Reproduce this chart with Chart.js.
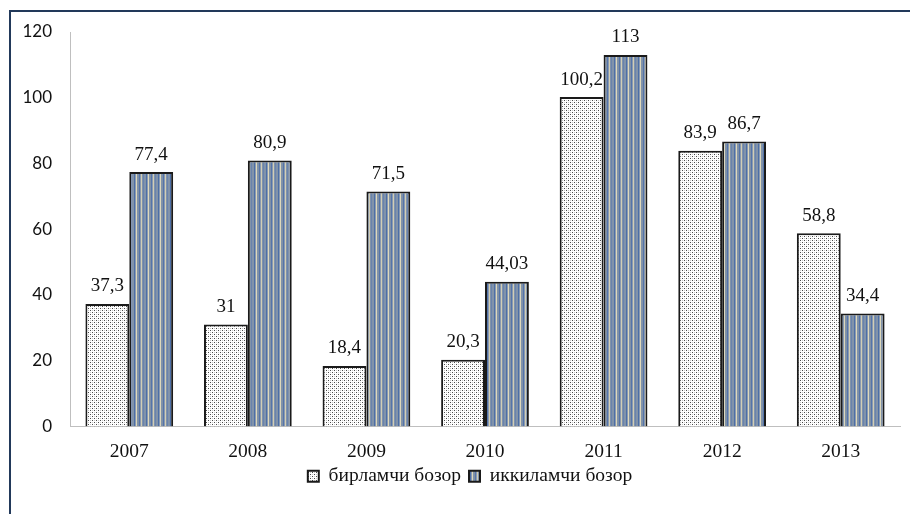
<!DOCTYPE html>
<html>
<head>
<meta charset="utf-8">
<script src="https://cdn.jsdelivr.net/npm/chart.js@4.4.0/dist/chart.umd.min.js"></script>
<style>
  html, body { margin: 0; padding: 0; background: #fff; }
  #wrap { position: relative; width: 910px; height: 514px; overflow: hidden; }
  #frame {
    position: absolute; left: 9px; top: 10px; width: 920px; height: 520px;
    border-left: 2px solid #22395a; border-top: 2px solid #22395a;
    box-sizing: border-box; pointer-events: none;
  }
  canvas { position: absolute; left: 0; top: 0; }
</style>
</head>
<body>
<div id="wrap">
  <canvas id="chart" width="910" height="514"></canvas>
  <div id="frame"></div>
</div>
<script>
// Data
const years = ['2007', '2008', '2009', '2010', '2011', '2012', '2013'];
const primaryMarket = [37.3, 31, 18.4, 20.3, 100.2, 83.9, 58.8];
const secondaryMarket = [77.4, 80.9, 71.5, 44.03, 113, 86.7, 34.4];
const primaryLabels = ['37,3', '31', '18,4', '20,3', '100,2', '83,9', '58,8'];
const secondaryLabels = ['77,4', '80,9', '71,5', '44,03', '113', '86,7', '34,4'];
const seriesNames = ['бирламчи бозор', 'иккиламчи бозор'];

// Fill patterns: fine dots and vertical stripes
function dotPattern(ctx) {
  const c = document.createElement('canvas');
  c.width = 4; c.height = 4;
  const g = c.getContext('2d');
  g.fillStyle = '#ffffff';
  g.fillRect(0, 0, 4, 4);
  g.fillStyle = '#4a4a4a';
  g.fillRect(0, 0, 1, 1);
  g.fillRect(2, 2, 1, 1);
  g.fillStyle = '#c8c8c8';
  g.fillRect(2, 0, 1, 1);
  g.fillRect(0, 2, 1, 1);
  return ctx.createPattern(c, 'repeat');
}

function stripePattern(ctx) {
  const cols = ['#8193aa', '#8193aa', '#4d6fa6', '#8a9ab0', '#ddd8bc', '#8193aa',
                '#7f90a6', '#5474aa', '#8a9ab0', '#d2ceb6', '#8193aa', '#6983ad'];
  const c = document.createElement('canvas');
  c.width = cols.length; c.height = 4;
  const g = c.getContext('2d');
  cols.forEach((col, i) => {
    g.fillStyle = col;
    g.fillRect(i, 0, 1, 4);
  });
  return ctx.createPattern(c, 'repeat');
}

const canvas = document.getElementById('chart');
const ctx = canvas.getContext('2d');

// Value labels above each bar
const valueLabels = {
  id: 'valueLabels',
  afterLayout(chart) {
    // legend sits a little right of the canvas centre
    chart.legend.left += 20;
    chart.legend.right += 20;
  },
  afterDatasetsDraw(chart) {
    const g = chart.ctx;
    const texts = [primaryLabels, secondaryLabels];
    g.save();
    g.font = '19px "Liberation Serif", "Times New Roman", serif';
    g.fillStyle = '#111';
    g.textAlign = 'center';
    g.textBaseline = 'bottom';
    chart.data.datasets.forEach((ds, i) => {
      chart.getDatasetMeta(i).data.forEach((bar, j) => {
        g.fillText(texts[i][j], bar.x, bar.y - 8);
      });
    });
    g.restore();
  }
};

new Chart(ctx, {
  type: 'bar',
  data: {
    labels: years,
    datasets: [
      {
        label: seriesNames[0],
        data: primaryMarket,
        backgroundColor: dotPattern(ctx),
        borderColor: '#1a1a1a',
        borderWidth: 2,
        borderSkipped: 'bottom'
      },
      {
        label: seriesNames[1],
        data: secondaryMarket,
        backgroundColor: stripePattern(ctx),
        borderColor: '#1a1a1a',
        borderWidth: 2,
        borderSkipped: 'bottom'
      }
    ]
  },
  options: {
    responsive: false,
    animation: false,
    devicePixelRatio: 1,
    categoryPercentage: 0.74,
    barPercentage: 1.0,
    layout: { padding: { left: 0, right: 10, top: 32, bottom: 18 } },
    scales: {
      x: {
        grid: { display: false, drawTicks: false },
        border: { display: true, color: '#bfbfbf', width: 1 },
        ticks: {
          color: '#111',
          padding: 14,
          font: { family: '"Liberation Serif", "Times New Roman", serif', size: 19.5 }
        },
        afterFit(scale) { scale.height = 32; }
      },
      y: {
        min: 0,
        max: 120,
        grid: { display: false, drawTicks: false },
        border: { display: true, color: '#bfbfbf', width: 1 },
        ticks: {
          stepSize: 20,
          color: '#111',
          padding: 18,
          font: { family: 'Lato, "Open Sans", sans-serif', size: 17 }
        },
        afterFit(scale) { scale.width = 70; }
      }
    },
    plugins: {
      legend: {
        position: 'bottom',
        labels: {
          boxWidth: 11,
          boxHeight: 11,
          padding: 8,
          color: '#111',
          font: { family: '"Liberation Serif", "Times New Roman", serif', size: 19.5 }
        }
      },
      tooltip: { enabled: false }
    }
  },
  plugins: [valueLabels]
});
</script>
</body>
</html>
